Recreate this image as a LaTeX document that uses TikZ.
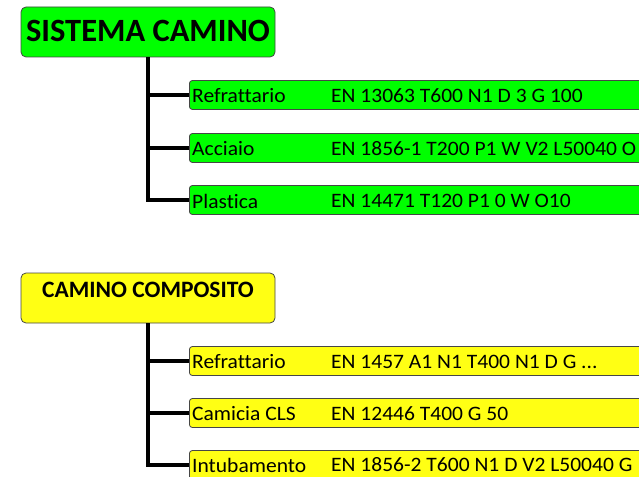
\documentclass[tikz,border=0pt]{standalone}
\usepackage{fontspec}
\setmainfont{Carlito}[Ligatures=NoCommon]
\definecolor{bgreen}{RGB}{0,255,0}
\definecolor{byellow}{RGB}{255,255,20}
\definecolor{edge}{RGB}{70,70,70}
\begin{document}
\begin{tikzpicture}[x=1pt,y=-1pt,
  parentbox/.style={draw=edge,line width=0.8pt,rounded corners=5pt,minimum width=254pt,minimum height=50pt,inner sep=0pt},
  childbox/.style={draw=edge,line width=0.8pt,rounded corners=3pt,minimum width=480pt,minimum height=29pt,anchor=west,inner sep=0pt},
  lbl/.style={anchor=west,inner sep=0pt,font=\fontsize{20.5}{21}\selectfont\addfontfeature{FakeStretch=1.05}},
  link/.style={line width=4pt,black}]
\useasboundingbox (0,0) rectangle (639,476);
\clip (0,0) rectangle (639,476);
% group 1
\node[parentbox,fill=bgreen] (p1) at (148,32) {};
\node[font=\bfseries\fontsize{32.5}{33}\selectfont,inner sep=0pt] (t1) at (148,31) {SISTEMA CAMINO};
\node[childbox,fill=bgreen] (a1) at (189,95) {};
\node[childbox,fill=bgreen] (a2) at (189,148) {};
\node[childbox,fill=bgreen] (a3) at (189,200) {};
\node[lbl] (a1l) at (192,96) {Refrattario};
\node[lbl] (a1r) at (331,96) {EN 13063 T600 N1 D 3 G 100};
\node[lbl] (a2l) at (192,149) {Acciaio};
\node[lbl] (a2r) at (331,149) {EN 1856-1 T200 P1 W V2 L50040 O};
\node[lbl] (a3l) at (192,201) {Plastica};
\node[lbl] (a3r) at (331,201) {EN 14471 T120 P1 0 W O10};
\draw[link] (p1.south) |- (a3.west);
\draw[link] (p1.south) |- (a1.west);
\draw[link] ([xshift=-2pt]p1.south |- a2.west) -- (a2.west);
% group 2
\node[parentbox,fill=byellow] (p2) at (148,298) {};
\node[font=\bfseries\fontsize{23.5}{24}\selectfont,inner sep=0pt] (t2) at (148,290) {CAMINO COMPOSITO};
\node[childbox,fill=byellow] (b1) at (189,361) {};
\node[childbox,fill=byellow] (b2) at (189,413) {};
\node[childbox,fill=byellow] (b3) at (189,465) {};
\node[lbl] (b1l) at (192,362) {Refrattario};
\node[lbl] (b1r) at (331,362) {EN 1457 A1 N1 T400 N1 D G ...};
\node[lbl] (b2l) at (192,414) {Camicia CLS};
\node[lbl] (b2r) at (331,414) {EN 12446 T400 G 50};
\node[lbl] (b3l) at (192,465) {Intubamento};
\node[lbl] (b3r) at (331,465) {EN 1856-2 T600 N1 D V2 L50040 G};
\draw[link] (p2.south) |- (b3.west);
\draw[link] (p2.south) |- (b1.west);
\draw[link] ([xshift=-2pt]p2.south |- b2.west) -- (b2.west);
\end{tikzpicture}
\end{document}
